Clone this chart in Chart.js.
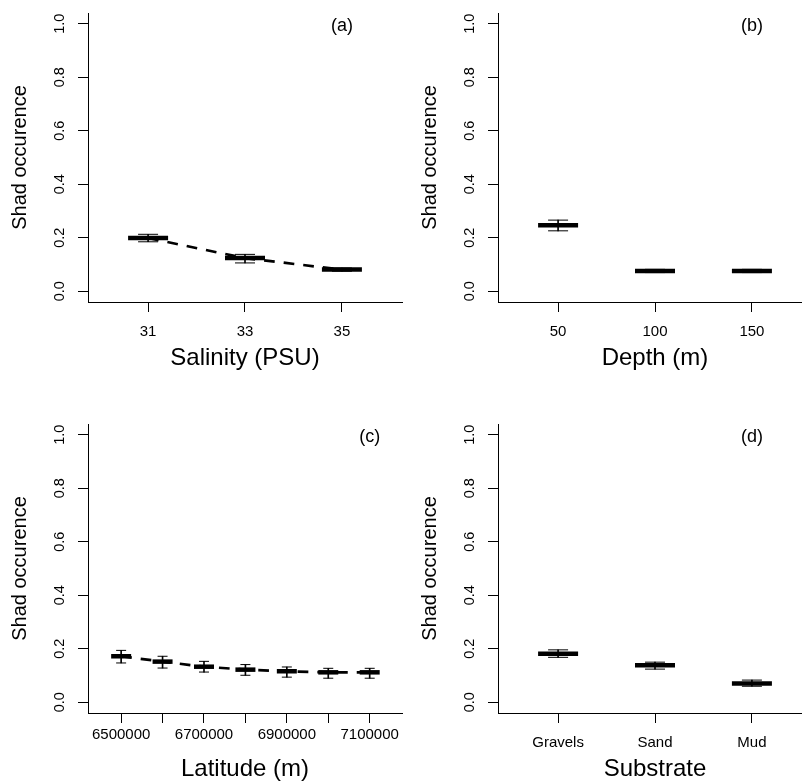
<!DOCTYPE html>
<html>
<head>
<meta charset="utf-8">
<script src="https://cdn.jsdelivr.net/npm/chart.js@4"></script>
<style>
  html, body { margin: 0; padding: 0; background: #fff; overflow: hidden; }
  #wrap { position: relative; width: 802px; height: 783px; overflow: hidden; }
  canvas { position: absolute; }
</style>
</head>
<body>
<div id="wrap">
  <canvas id="panelA" width="410" height="411" style="left:0;top:0"></canvas>
  <canvas id="panelB" width="410" height="411" style="left:410px;top:0"></canvas>
  <canvas id="panelC" width="410" height="411" style="left:0;top:411px"></canvas>
  <canvas id="panelD" width="410" height="411" style="left:410px;top:411px"></canvas>
</div>
<script>
// ---- data ----
const yTicks = [0, 0.2, 0.4, 0.6, 0.8, 1.0];

// (a) salinity
const salinity = [31, 33, 35];
const salMean = [0.199, 0.124, 0.081];
const salLo = [0.185, 0.106, 0.075];
const salHi = [0.213, 0.138, 0.087];

// (b) depth
const depth = [50, 100, 150];
const depthMean = [0.247, 0.076, 0.076];
const depthLo = [0.226, 0.070, 0.070];
const depthHi = [0.266, 0.082, 0.082];

// (c) latitude
const latitude = [6500000, 6600000, 6700000, 6800000, 6900000, 7000000, 7100000];
const latLabels = ["6500000", "", "6700000", "", "6900000", "", "7100000"];
const latMean = [0.172, 0.152, 0.133, 0.122, 0.116, 0.112, 0.112];
const latLo = [0.147, 0.128, 0.113, 0.101, 0.094, 0.090, 0.090];
const latHi = [0.194, 0.172, 0.153, 0.141, 0.132, 0.127, 0.127];

// (d) substrate
const substrate = ["Gravels", "Sand", "Mud"];
const substratePos = [1, 2, 3];
const subMean = [0.181, 0.138, 0.070];
const subLo = [0.168, 0.124, 0.060];
const subHi = [0.196, 0.150, 0.083];

Chart.defaults.font.family = "'Liberation Sans', Arial, sans-serif";
Chart.defaults.color = "#000";

// panel letter, drawn at (last x, 1.0)
const panelTag = {
  id: "panelTag",
  afterDatasetsDraw(chart, args, opts) {
    const { ctx, scales: { x, y } } = chart;
    ctx.save();
    ctx.font = "18px 'Liberation Sans', Arial, sans-serif";
    ctx.fillStyle = "#000";
    ctx.textAlign = "center";
    ctx.textBaseline = "middle";
    ctx.fillText(opts.text, x.getPixelForValue(opts.at), y.getPixelForValue(1.0) + 2);
    ctx.restore();
  }
};

function pts(xs, ys) {
  return xs.map((v, i) => ({ x: v, y: ys[i] }));
}

// keep the plot box fixed, no label padding around it
function noPad(s) {
  s.paddingTop = 0;
  s.paddingBottom = 0;
  s.paddingLeft = 0;
  s.paddingRight = 0;
}

function makePanel(id, p) {
  const datasets = [
    // mean bar
    { type: "scatter", data: pts(p.x, p.mean), pointStyle: "line", pointRadius: p.barHalf,
      borderWidth: 4.5, borderColor: "#000", backgroundColor: "#000" },
    // caps
    { type: "scatter", data: pts(p.x, p.hi), pointStyle: "line", pointRadius: p.capHalf,
      borderWidth: 1, borderColor: "#000" },
    { type: "scatter", data: pts(p.x, p.lo), pointStyle: "line", pointRadius: p.capHalf,
      borderWidth: 1, borderColor: "#000" },
    // whiskers
    { type: "bar", data: p.x.map((v, i) => ({ x: v, y: [p.lo[i], p.hi[i]] })),
      barThickness: 1, backgroundColor: "#000", borderWidth: 0 }
  ];
  if (p.dashed) {
    datasets.push({ type: "line", data: pts(p.x, p.mean), borderColor: "#000", borderWidth: 2.7,
      borderDash: [10.7, 9], pointRadius: 0, tension: 0, fill: false });
  }

  const axisGrid = { display: true, drawOnChartArea: false, drawTicks: true, tickLength: 10,
    color: "#000", offset: false };
  const axisBorder = { display: true, color: "#000", width: 1 };

  return new Chart(document.getElementById(id), {
    type: "scatter",
    data: { datasets },
    options: {
      responsive: false,
      animation: false,
      events: [],
      layout: { autoPadding: false, padding: { top: 13, right: 8, left: 0, bottom: 0 } },
      plugins: {
        legend: { display: false },
        tooltip: { enabled: false },
        panelTag: { text: p.tag, at: p.x[p.x.length - 1] }
      },
      scales: {
        x: {
          type: "linear", min: p.xMin, max: p.xMax, offset: false,
          afterFit: s => { s.height = 109; noPad(s); },
          afterBuildTicks: s => { s.ticks = p.x.map(v => ({ value: v })); },
          grid: axisGrid,
          border: axisBorder,
          ticks: { autoSkip: false, minRotation: 0, maxRotation: 0, padding: p.tickPad,
            font: { size: 15 }, color: "#000", callback: (v, i) => p.labels[i] },
          title: { display: true, text: p.xTitle, font: { size: 24 }, color: "#000",
            padding: { top: 0, bottom: 38 } }
        },
        y: {
          type: "linear", min: -0.04, max: 1.04,
          afterFit: s => { s.width = 88; noPad(s); },
          afterBuildTicks: s => { s.ticks = yTicks.map(v => ({ value: v })); },
          grid: axisGrid,
          border: axisBorder,
          ticks: { minRotation: 90, maxRotation: 90, crossAlign: "center", padding: 8,
            font: { size: 14.5 }, color: "#000", callback: v => v.toFixed(1) },
          title: { display: true, text: "Shad occurence", font: { size: 20 }, color: "#000",
            padding: { top: 8, bottom: 0 } }
        }
      }
    },
    plugins: [panelTag]
  });
}

makePanel("panelA", { x: salinity, labels: salinity.map(String), mean: salMean, lo: salLo, hi: salHi,
  xMin: 29.76, xMax: 36.24, xTitle: "Salinity (PSU)", tag: "(a)", dashed: true,
  barHalf: 20, capHalf: 10, tickPad: 11 });
makePanel("panelB", { x: depth, labels: depth.map(String), mean: depthMean, lo: depthLo, hi: depthHi,
  xMin: 19, xMax: 181, xTitle: "Depth (m)", tag: "(b)", dashed: false,
  barHalf: 20, capHalf: 10, tickPad: 11 });
makePanel("panelC", { x: latitude, labels: latLabels, mean: latMean, lo: latLo, hi: latHi,
  xMin: 6420000, xMax: 7178000, xTitle: "Latitude (m)", tag: "(c)", dashed: true,
  barHalf: 10, capHalf: 5, tickPad: 3 });
makePanel("panelD", { x: substratePos, labels: substrate, mean: subMean, lo: subLo, hi: subHi,
  xMin: 0.38, xMax: 3.62, xTitle: "Substrate", tag: "(d)", dashed: false,
  barHalf: 20, capHalf: 10, tickPad: 11 });
</script>
</body>
</html>
